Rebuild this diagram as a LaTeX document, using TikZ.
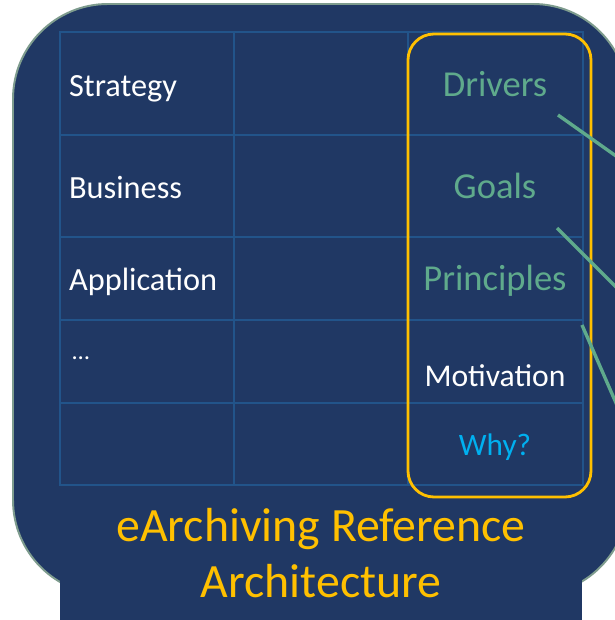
\documentclass[tikz,border=0pt]{standalone}
\usepackage{fontspec}
\setmainfont{Carlito}
\definecolor{navy}{HTML}{203864}
\definecolor{gridblue}{HTML}{22548A}
\definecolor{rim}{HTML}{7E9C8E}
\definecolor{gold}{HTML}{FFC000}
\definecolor{sea}{HTML}{5FAA8C}
\definecolor{sky}{HTML}{00B0F0}

\begin{document}
\begin{tikzpicture}[
  lbl/.style={inner sep=0pt, text=white, font=\fontsize{23}{27}\selectfont},
  grn/.style={inner sep=0pt, text=sea, font=\fontsize{26}{30}\selectfont},
  cell/.style={gridblue, line width=1.5pt},
  link/.style={sea, line width=2.4pt}
]

\useasboundingbox (0,0) rectangle (15.35,15.5);
\fill[white] (0,0) rectangle (15.35,15.5);

\draw[rim, fill=navy, line width=1.4pt, rounded corners=2.375cm] (0.325,0.625) rectangle (15.7,15.4);
\fill[navy] (1.5,-0.5) rectangle (14.55,3);

% table
\draw[cell] (1.5,3.375) rectangle (14.575,14.7);
\draw[cell] (5.85,3.375) -- (5.85,14.7);
\draw[cell] (10.2,3.375) -- (10.2,14.7);
\draw[cell] (1.5,12.125) -- (14.575,12.125);
\draw[cell] (1.5,9.575) -- (14.575,9.575);
\draw[cell] (1.5,7.5) -- (14.575,7.5);
\draw[cell] (1.5,5.425) -- (14.575,5.425);

\node[lbl, anchor=base west] (v1) at (1.72,13.08) {Strategy};
\node[lbl, anchor=base west] (v2) at (1.72,10.53) {Business};
\node[lbl, anchor=base west] (v3) at (1.72,8.23) {Application};
\node[lbl, anchor=base west] (v4) at (1.8,6.5) {\fontsize{17.5}{20}\selectfont …};

% motivation column
\draw[gold, line width=2pt, rounded corners=0.65cm] (10.2,3.075) rectangle (14.775,14.65);

\node[grn, anchor=base] (v5) at (12.375,13.08) {Drivers};
\node[grn, anchor=base] (v6) at (12.375,10.53) {Goals};
\node[grn, anchor=base] (v7) at (12.375,8.23) {Principles};
\node[lbl, anchor=base, font=\fontsize{22.5}{26}\selectfont] (v8) at (12.375,5.84) {Motivation};
\node[lbl, anchor=base, text=sky, font=\fontsize{22.2}{26}\selectfont] (v9) at (12.375,4.1) {Why?};

\node[anchor=base, inner sep=0pt, text=gold, font=\fontsize{34}{38}\selectfont] (v10) at (8.025,1.97) {eArchiving Reference};
\node[anchor=base, inner sep=0pt, text=gold, font=\fontsize{34}{38}\selectfont] (v11) at (8.025,0.55) {Architecture};

\coordinate (p1) at (13.95,12.625);
\coordinate (p2) at (13.925,9.8);
\coordinate (p3) at (14.55,7.375);
\coordinate (q1) at (16,11.175);
\coordinate (q2) at (16,7.725);
\coordinate (q3) at (16,4.05);

\draw[link] (p1) -- (q1);
\draw[link] (p2) -- (q2);
\draw[link] (p3) -- (q3);

\end{tikzpicture}
\end{document}
